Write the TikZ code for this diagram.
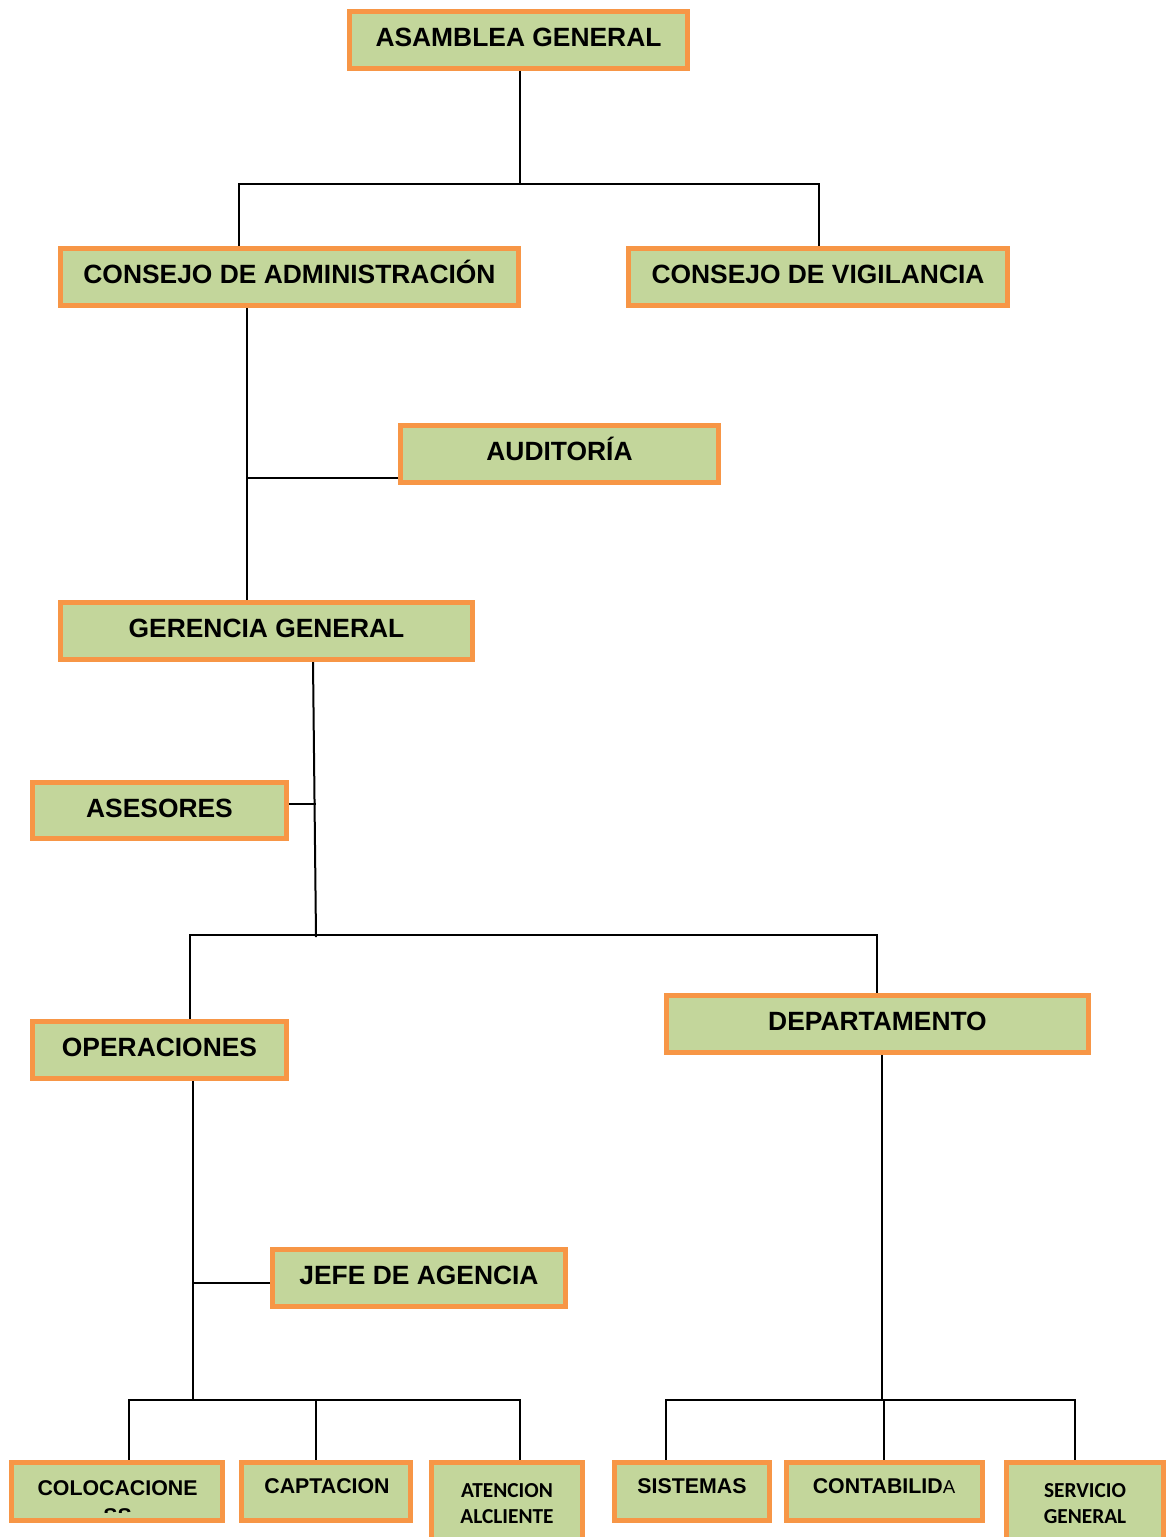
\documentclass[tikz,border=0pt]{standalone}
\usepackage{fontspec}
\setmainfont{Liberation Sans}
\newfontfamily\calib{Carlito}
\usetikzlibrary{backgrounds}
\definecolor{boxfill}{HTML}{C3D69B}
\definecolor{boxline}{HTML}{F79646}
\tikzset{
  box/.style={draw=boxline, fill=boxfill, line width=3.75pt, inner sep=0pt, rectangle,
    font=\fontsize{19.8}{22}\selectfont\bfseries, text height=14.2pt, text depth=3.8pt},
  conn/.style={draw=black, line width=1.5pt},
  small/.style={font=\fontsize{16}{18}\selectfont\bfseries, inner sep=0pt, anchor=base},
  narrow/.style={font=\calib\fontsize{16}{18}\selectfont\bfseries, inner sep=0pt, anchor=base}
}
\newcommand\obox[6]{%
  \node[box, minimum width={(#4-#2)*0.75pt}, minimum height={(#5-#3)*0.75pt}]
    (#1) at ({(#2+#4)/2},{(#3+#5)/2}) {#6};}
\begin{document}
\begin{tikzpicture}[x=0.75pt,y=-0.75pt]
\useasboundingbox (0,0) rectangle (1166,1537);
\clip (0,0) rectangle (1166,1537);
% boxes
\obox{asam}{349.5}{11.5}{687.5}{68.5}{ASAMBLEA GENERAL}
\obox{cadm}{60.5}{248.5}{518.5}{305.5}{CONSEJO DE ADMINISTRACIÓN}
\obox{cvig}{628.5}{248.5}{1007.5}{305.5}{CONSEJO DE VIGILANCIA}
\obox{aud}{400.5}{425.5}{718.5}{482.5}{AUDITORÍA}
\obox{ger}{60.5}{602.5}{472.5}{659.5}{GERENCIA GENERAL}
\obox{ases}{32.5}{782.5}{286.5}{838.5}{ASESORES}
\obox{oper}{32.5}{1021.5}{286.5}{1078.5}{OPERACIONES}
\obox{dep}{666.5}{995.5}{1088.5}{1052.5}{DEPARTAMENTO}
\obox{jefe}{272.5}{1249.5}{565.5}{1306.5}{JEFE DE AGENCIA}
\obox{colo}{11.5}{1462.5}{222.5}{1520.5}{}
\obox{capt}{241.5}{1462.5}{410.5}{1520.5}{}
\obox{aten}{431.5}{1462.5}{582.5}{1560}{}
\obox{sist}{614.5}{1462.5}{769.5}{1520.5}{}
\obox{cont}{786.5}{1462.5}{982.5}{1520.5}{}
\obox{serv}{1006.5}{1462.5}{1163.5}{1560}{}
% bottom texts
\node[small] (tcolo) at (117.5,1495) {COLOCACIONE};
\begin{scope}
  \clip (14,1465) rectangle (220,1512);
  \node[small] (tcolo2) at (117.5,1523) {SS};
\end{scope}
\node[small] (tcapt) at (327,1493.5) {CAPTACION};
\node[narrow] (taten1) at (507,1497.5) {ATENCION};
\node[narrow] (taten2) at (507,1523) {ALCLIENTE};
\node[small] (tsist) at (692,1493.5) {SISTEMAS};
\node[small] (tcont) at (884,1493.5) {CONTABILID{\mdseries\fontsize{14}{16}\selectfont A}};
\node[narrow] (tserv1) at (1085,1497.5) {SERVICIO};
\node[narrow] (tserv2) at (1085,1523) {GENERAL};
% junctions
\coordinate (jA) at (520,184);
\coordinate (jB) at (247,478);
\coordinate (jS) at (316,804);
\coordinate (jC) at (316,935);
\coordinate (jJ) at (193,1283);
\coordinate (jD) at (193,1400);
\coordinate (jE) at (882,1400);
\begin{scope}[on background layer]
\draw[conn] (asam.south -| jA) -- (jA);
\draw[conn] (cadm.north -| 239,0) |- (jA) -| (cvig.north -| 819,0);
\draw[conn] (cadm.south -| jB) -- (ger.north -| jB);
\draw[conn] (jB) -- (aud.west |- jB);
\draw[conn] (ger.south -| 313,0) -- (316,937);
\draw[conn] (ases.east |- jS) -- (jS);
\draw[conn] (oper.north -| 190,0) |- (jC) -| (dep.north -| 877,0);
\draw[conn] (oper.south -| jD) -- (jD);
\draw[conn] (jJ) -- (jefe.west |- jJ);
\draw[conn] (colo.north -| 129,0) |- (jD) -| (aten.north -| 520,0);
\draw[conn] (capt.north -| 316,0) -- (316,1400);
\draw[conn] (dep.south -| jE) -- (jE);
\draw[conn] (sist.north -| 666,0) |- (jE) -| (serv.north -| 1075,0);
\draw[conn] (cont.north -| 884,0) -- (884,1400);
\end{scope}
\end{tikzpicture}
\end{document}
